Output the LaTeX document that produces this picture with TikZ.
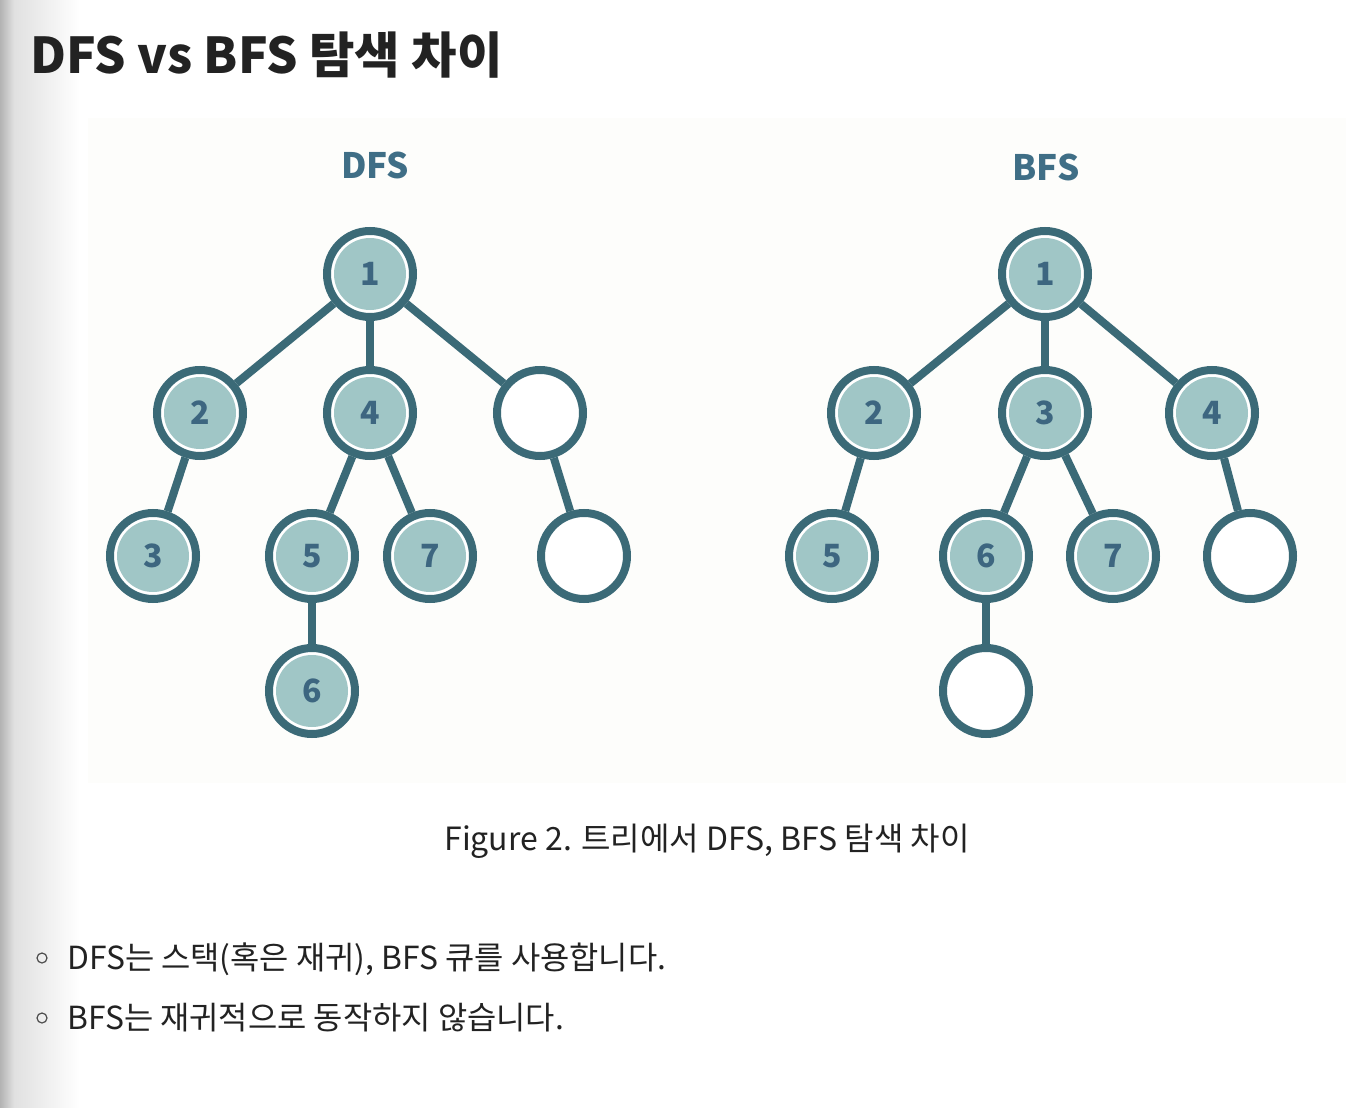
\documentclass[tikz,border=0pt]{standalone}
\usepackage{fontspec}
\setmainfont{Noto Sans CJK KR}
\usetikzlibrary{shadings}
\definecolor{ring}{HTML}{3B6A77}
\definecolor{fillc}{HTML}{A0C6C6}
\definecolor{numc}{HTML}{3D6680}
\definecolor{labc}{HTML}{3F6E86}
\definecolor{figbg}{HTML}{FDFDFB}
\definecolor{txt}{HTML}{222222}
\tikzset{
  treenode/.style={circle, draw=ring, line width=4pt, fill=white, minimum size=43pt, inner sep=0pt,
    font=\bfseries\fontsize{16}{16}\selectfont, text=numc},
  visited/.style={treenode, path picture={\fill[fillc] (path picture bounding box.center) circle (18pt);}},
  emptynode/.style={treenode},
  edge/.style={draw=ring, line width=4pt},
  treelabel/.style={font=\bfseries\fontsize{17.5}{17.5}\selectfont, text=labc},
  bulletdot/.style={circle, draw=txt!80, line width=0.6pt, minimum size=5pt, inner sep=0pt},
  bullettext/.style={anchor=base west, font=\fontsize{15.9}{15.9}\selectfont, text=txt, inner sep=0pt}
}
\begin{document}
\begin{tikzpicture}[x=0.5pt,y=-0.5pt]
\useasboundingbox (0,0) rectangle (1346,1108);
\fill[white] (0,0) rectangle (1346,1108);
% left shadow
\shade[left color=black!30, right color=black!12] (0,0) rectangle (14,1108);
\shade[left color=black!12, right color=white] (14,0) rectangle (80,1108);
% figure background
\fill[figbg] (88,118) rectangle (1346,783);

% title
\node[anchor=base west, inner sep=0pt, font=\bfseries\fontsize{24.7}{24.7}\selectfont, text=txt] (title) at (30,74) {DFS vs BFS 탐색 차이};

% tree labels
\node[treelabel] (dfslab) at (375,165) {DFS};
\node[treelabel] (bfslab) at (1046,167) {BFS};

% DFS tree
\node[visited] (d1) at (370,274) {1};
\node[visited] (d2) at (200,413) {2};
\node[visited] (d4) at (370,413) {4};
\node[emptynode] (de1) at (540,413) {};
\node[visited] (d3) at (153,556) {3};
\node[visited] (d5) at (312,556) {5};
\node[visited] (d7) at (430,556) {7};
\node[emptynode] (de2) at (584,556) {};
\node[visited] (d6) at (312,691) {6};
\draw[edge] (d1) -- (d2);
\draw[edge] (d1) -- (d4);
\draw[edge] (d1) -- (de1);
\draw[edge] (d2) -- (d3);
\draw[edge] (d4) -- (d5);
\draw[edge] (d4) -- (d7);
\draw[edge] (de1) -- (de2);
\draw[edge] (d5) -- (d6);

% BFS tree
\node[visited] (b1) at (1045,274) {1};
\node[visited] (b2) at (874,413) {2};
\node[visited] (b3) at (1045,413) {3};
\node[visited] (b4) at (1212,413) {4};
\node[visited] (b5) at (832,556) {5};
\node[visited] (b6) at (986,556) {6};
\node[visited] (b7) at (1113,556) {7};
\node[emptynode] (be1) at (1250,556) {};
\node[emptynode] (be2) at (986,691) {};
\draw[edge] (b1) -- (b2);
\draw[edge] (b1) -- (b3);
\draw[edge] (b1) -- (b4);
\draw[edge] (b2) -- (b5);
\draw[edge] (b3) -- (b6);
\draw[edge] (b3) -- (b7);
\draw[edge] (b4) -- (be1);
\draw[edge] (b6) -- (be2);

% caption
\node[anchor=base, inner sep=0pt, font=\fontsize{16}{16}\selectfont, text=txt] (caption) at (707,850) {Figure 2. 트리에서 DFS, BFS 탐색 차이};

% bullets
\node[bulletdot] (bd1) at (42,958) {};
\node[bullettext] (bt1) at (67,969) {DFS는 스택(혹은 재귀), BFS 큐를 사용합니다.};
\node[bulletdot] (bd2) at (42,1018) {};
\node[bullettext] (bt2) at (67,1029) {BFS는 재귀적으로 동작하지 않습니다.};
\end{tikzpicture}
\end{document}
